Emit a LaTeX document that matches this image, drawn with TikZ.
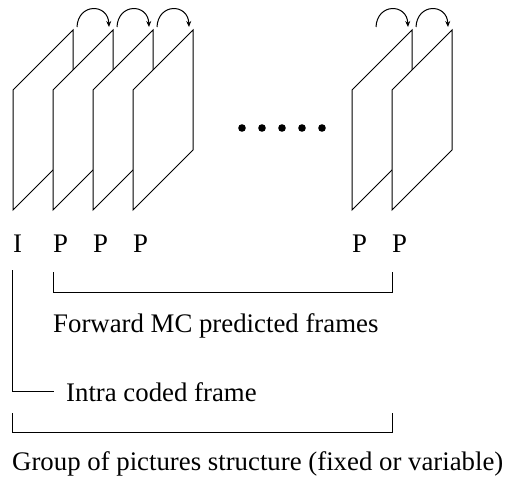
\documentclass[tikz,border=0pt]{standalone}
\usepackage{fontspec}
\setmainfont{Liberation Serif}
\usetikzlibrary{arrows.meta}
\begin{document}
\begin{tikzpicture}[x=1pt,y=-1pt,
  framebox/.style={draw=black,fill=white,line width=1pt,line join=miter},
  hop/.style={draw=black,line width=1pt,-{Stealth[length=6pt,width=5pt]}},
  bracket/.style={draw=black,line width=0.8pt},
  lbl/.style={inner sep=0pt,font=\fontsize{26.8}{31}\selectfont},
  dotmark/.style={fill=black}]
\useasboundingbox (0,0) rectangle (506,479);

% picture frames, drawn left to right so each one hides the one behind it
\foreach \L/\n in {13/1,53/2,93/3,133/4,352/5,392/6}{
  \filldraw[framebox] (\L,90) -- (\L+60,30) -- (\L+60,150) -- (\L,210) -- cycle;
}

% forward prediction arcs
\foreach \c in {73,113,153,372,412}{
  \draw[hop] (\c+4,27) .. controls (\c+5,3) and (\c+35,3) .. (\c+36,27);
}

% ellipsis between the frame groups
\foreach \x in {242,262,282,302,322}{
  \fill[dotmark] (\x,128) circle (3.8);
}

% frame type labels
\node[lbl,anchor=base west] (fI)  at (13,252) {I};
\node[lbl,anchor=base west] (fP1) at (53,252) {P};
\node[lbl,anchor=base west] (fP2) at (93,252) {P};
\node[lbl,anchor=base west] (fP3) at (133,252) {P};
\node[lbl,anchor=base west] (fP4) at (352,252) {P};
\node[lbl,anchor=base west] (fP5) at (392,252) {P};

% bracket over the predicted frames
\coordinate (pa) at (53,272);
\coordinate (pb) at (392,272);
\draw[bracket] (pa) -- ++(0,20) -| (pb);
\node[lbl,anchor=base west] (fwd) at (53,332) {Forward MC predicted frames};

% pointer to the intra frame
\coordinate (ia) at (12,270);
\node[lbl,anchor=base west] (intra) at (66,401) {Intra coded frame};
\draw[bracket] (ia) |- ([xshift=-12pt]intra.west);

% bracket over the whole group of pictures
\coordinate (ga) at (12,413);
\coordinate (gb) at (392,413);
\draw[bracket] (ga) -- ++(0,19) -| (gb);
\node[lbl,anchor=base west] (gop) at (12,470) {Group of pictures structure (fixed or variable)};
\end{tikzpicture}
\end{document}
